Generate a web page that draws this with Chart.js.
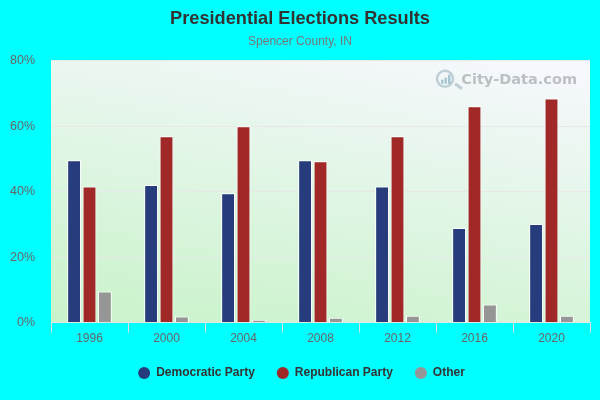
<!DOCTYPE html>
<html>
<head>
<meta charset="utf-8">
<title>Presidential Elections Results</title>
<script src="https://cdn.jsdelivr.net/npm/chart.js@4"></script>
<style>
  html, body { margin:0; padding:0; background:#00ffff; }
  canvas { display:block; }
</style>
</head>
<body>
<canvas id="electionChart" width="600" height="400"></canvas>
<script>
const years = ['1996','2000','2004','2008','2012','2016','2020'];
const democratic = [49.6,42.0,39.5,49.6,41.6,28.9,30.1];
const republican = [41.6,56.9,60.0,49.3,56.9,66.1,68.5];
const other = [9.5,1.9,0.9,1.5,2.1,5.5,2.1];

const FONT = '"Liberation Sans", Arial, sans-serif';

// page colour, plot gradient and the faded logo
const backdrop = {
  id:'backdrop',
  afterLayout(chart){
    // legend sits a little right of centre in the original
    chart.legend.left += 1.5;
    chart.legend.right += 1.5;
  },
  beforeDraw(chart){
    const {ctx, chartArea:a, width, height} = chart;
    ctx.save();
    ctx.fillStyle = '#00ffff';
    ctx.fillRect(0,0,width,height);
    const g = ctx.createLinearGradient(a.left, a.bottom, a.left+67, a.bottom-352);
    g.addColorStop(0,'#c8f3c9');
    g.addColorStop(1,'#f8f8ff');
    ctx.fillStyle = g;
    ctx.fillRect(a.left,a.top,a.right-a.left,a.bottom-a.top);
    ctx.restore();
  },
  beforeDatasetsDraw(chart){
    const {ctx, chartArea:a} = chart;
    ctx.save();
    ctx.filter = 'blur(0.6px)';
    ctx.font = 'bold 14.5px "DejaVu Sans"';
    ctx.fillStyle = 'rgba(120,125,130,0.45)';
    ctx.textAlign = 'right';
    ctx.textBaseline = 'middle';
    ctx.fillText('City-Data.com', a.right-13, a.top+19);
    // magnifier
    ctx.strokeStyle = 'rgba(150,175,185,0.55)';
    ctx.lineWidth = 2.5;
    ctx.beginPath();
    ctx.arc(a.right-145, a.top+18, 8, 0, Math.PI*2);
    ctx.stroke();
    ctx.lineWidth = 3;
    ctx.beginPath();
    ctx.moveTo(a.right-135, a.top+23);
    ctx.lineTo(a.right-128, a.top+28);
    ctx.stroke();
    ctx.fillStyle = 'rgba(90,150,170,0.5)';
    ctx.fillRect(a.right-149, a.top+19, 2.5, 4);
    ctx.fillRect(a.right-145.5, a.top+17, 2.5, 6);
    ctx.fillRect(a.right-142, a.top+14, 2.5, 9);
    ctx.restore();
  }
};

new Chart(document.getElementById('electionChart').getContext('2d'), {
  type:'bar',
  data:{
    labels:years,
    datasets:[
      {label:'Democratic Party', data:democratic, backgroundColor:'#273c7c'},
      {label:'Republican Party', data:republican, backgroundColor:'#a02826'},
      {label:'Other', data:other, backgroundColor:'#969696'}
    ]
  },
  plugins:[backdrop],
  options:{
    responsive:false,
    animation:false,
    layout:{padding:{left:10,right:10,top:0,bottom:11}},
    datasets:{bar:{categoryPercentage:0.6, barPercentage:0.9, borderColor:'#ffffff', borderWidth:1}},
    scales:{
      x:{
        afterFit(scale){ scale.height = 22.4; },
        grid:{drawOnChartArea:false, color:'#dddddd', tickLength:10},
        border:{color:'#e6e6e6'},
        ticks:{color:'#666666', font:{family:FONT,size:12}, padding:-1}
      },
      y:{
        min:0, max:80,
        afterFit(scale){ scale.width = 41; },
        grid:{color:'#e8e8e8', drawTicks:false},
        border:{display:false},
        ticks:{stepSize:20, color:'#666666', font:{family:FONT,size:12.5}, padding:16, callback:v=>v+'%'}
      }
    },
    plugins:{
      title:{display:true, text:'Presidential Elections Results', color:'#333333',
        font:{family:FONT,size:18.2,weight:'bold'}, padding:{top:8,bottom:5}},
      subtitle:{display:true, text:'Spencer County, IN', color:'#777777',
        font:{family:FONT,size:12,weight:'normal'}, padding:{bottom:11.5}},
      legend:{
        position:'bottom',
        labels:{
          usePointStyle:true, pointStyle:'circle', boxWidth:14, boxHeight:8.5, padding:22,
          color:'#333333', font:{family:FONT,size:12,weight:'bold'},
          generateLabels(chart){
            return Chart.defaults.plugins.legend.labels.generateLabels(chart).map(l=>{
              l.strokeStyle = l.fillStyle; l.lineWidth = 0; return l;
            });
          }
        }
      },
      tooltip:{enabled:false}
    }
  }
});
</script>
</body>
</html>
